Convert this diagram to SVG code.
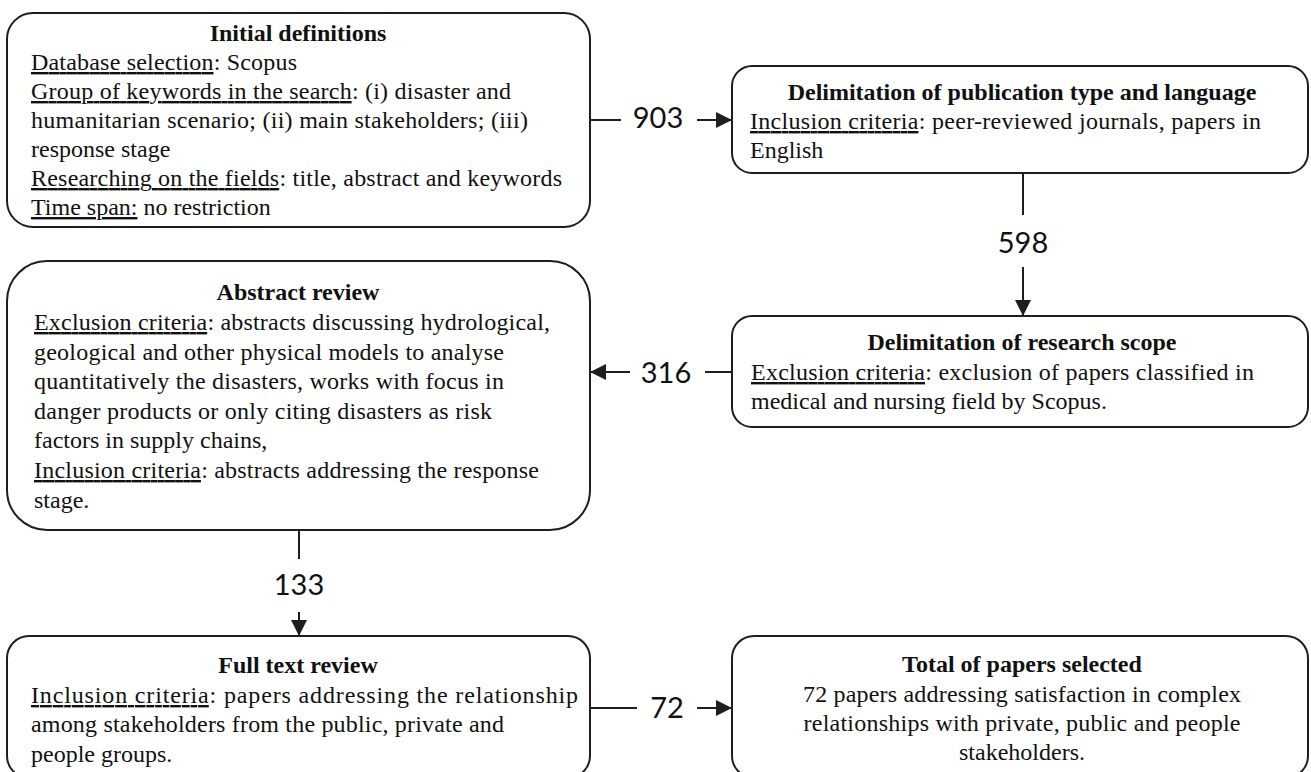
<svg xmlns="http://www.w3.org/2000/svg" width="1311" height="772" viewBox="0 0 1311 772">
<style>
.box{fill:#fff;stroke:#1e1e1e;stroke-width:2}
.t{font-family:"Liberation Serif","Times New Roman",serif;font-size:24px;fill:#111}
.b{font-weight:bold;text-anchor:middle}
.c{text-anchor:middle}
.u{text-decoration:underline}
.ln{stroke:#1e1e1e;stroke-width:2;fill:none}
.n{font-family:Lato,"Open Sans",sans-serif;font-size:29px;fill:#111;text-anchor:middle}
</style>
<defs>
<marker id="ah" viewBox="0 0 10 10" refX="10" refY="5" markerUnits="userSpaceOnUse" markerWidth="17" markerHeight="16" orient="auto">
<path d="M0,0 L10,5 L0,10 z" fill="#1e1e1e"/>
</marker>
</defs>
<rect width="1311" height="772" fill="#fff"/>

<g id="connectors">
<line class="ln" x1="590" y1="120" x2="621" y2="120"/>
<text class="n" x="658" y="128">903</text>
<line class="ln" x1="697" y1="120" x2="732" y2="120" marker-end="url(#ah)"/>

<line class="ln" x1="1023" y1="173" x2="1023" y2="215"/>
<text class="n" x="1023" y="253">598</text>
<line class="ln" x1="1023" y1="267" x2="1023" y2="316" marker-end="url(#ah)"/>

<line class="ln" x1="732" y1="372" x2="705" y2="372"/>
<text class="n" x="666" y="383">316</text>
<line class="ln" x1="630" y1="372" x2="590" y2="372" marker-end="url(#ah)"/>

<line class="ln" x1="299" y1="530" x2="299" y2="559"/>
<text class="n" x="299" y="595">133</text>
<line class="ln" x1="299" y1="612" x2="299" y2="636" marker-end="url(#ah)"/>

<line class="ln" x1="590" y1="708" x2="637" y2="708"/>
<text class="n" x="667" y="718">72</text>
<line class="ln" x1="697" y1="708" x2="732" y2="708" marker-end="url(#ah)"/>
</g>

<g id="initial-definitions">
<rect class="box" x="7" y="13" width="583" height="214" rx="26"/>
<text class="t b" x="298" y="41">Initial definitions</text>
<text class="t" x="31" y="70" textLength="266" lengthAdjust="spacing"><tspan class="u">Database selection</tspan>: Scopus</text>
<text class="t" x="31" y="99" textLength="480" lengthAdjust="spacing"><tspan class="u">Group of keywords in the search</tspan>: (i) disaster and</text>
<text class="t" x="31" y="128" textLength="497" lengthAdjust="spacing">humanitarian scenario; (ii) main stakeholders; (iii)</text>
<text class="t" x="31" y="157">response stage</text>
<text class="t" x="31" y="186" textLength="531" lengthAdjust="spacing"><tspan class="u">Researching on the fields</tspan>: title, abstract and keywords</text>
<text class="t" x="31" y="215"><tspan class="u">Time span:</tspan> no restriction</text>
</g>

<g id="publication-type">
<rect class="box" x="732" y="66" width="576" height="107" rx="20"/>
<text class="t b" x="1022" y="100">Delimitation of publication type and language</text>
<text class="t" x="750" y="129" textLength="511" lengthAdjust="spacing"><tspan class="u">Inclusion criteria</tspan>: peer-reviewed journals, papers in</text>
<text class="t" x="750" y="158">English</text>
</g>

<g id="research-scope">
<rect class="box" x="732" y="316" width="576" height="111" rx="20"/>
<text class="t b" x="1022" y="350">Delimitation of research scope</text>
<text class="t" x="751" y="380" textLength="503" lengthAdjust="spacing"><tspan class="u">Exclusion criteria</tspan>: exclusion of papers classified in</text>
<text class="t" x="751" y="409">medical and nursing field by Scopus.</text>
</g>

<g id="abstract-review">
<rect class="box" x="7" y="261" width="583" height="269" rx="40"/>
<text class="t b" x="298" y="300">Abstract review</text>
<text class="t" x="34" y="330" textLength="516" lengthAdjust="spacing"><tspan class="u">Exclusion criteria</tspan>: abstracts discussing hydrological,</text>
<text class="t" x="34" y="360" textLength="470" lengthAdjust="spacing">geological and other physical models to analyse</text>
<text class="t" x="34" y="389" textLength="470" lengthAdjust="spacing">quantitatively the disasters, works with focus in</text>
<text class="t" x="34" y="419" textLength="458" lengthAdjust="spacing">danger products or only citing disasters as risk</text>
<text class="t" x="34" y="448">factors in supply chains,</text>
<text class="t" x="34" y="478" textLength="505" lengthAdjust="spacing"><tspan class="u">Inclusion criteria</tspan>: abstracts addressing the response</text>
<text class="t" x="34" y="508">stage.</text>
</g>

<g id="full-text-review">
<rect class="box" x="7" y="636" width="583" height="142" rx="22"/>
<text class="t b" x="298" y="673">Full text review</text>
<text class="t" x="31" y="703" textLength="547" lengthAdjust="spacing"><tspan class="u">Inclusion criteria</tspan>: papers addressing the relationship</text>
<text class="t" x="31" y="732" textLength="473" lengthAdjust="spacing">among stakeholders from the public, private and</text>
<text class="t" x="31" y="762">people groups.</text>
</g>

<g id="total-selected">
<rect class="box" x="732" y="636" width="576" height="142" rx="22"/>
<text class="t b" x="1022" y="672">Total of papers selected</text>
<text class="t c" x="1022" y="702" textLength="438" lengthAdjust="spacing">72 papers addressing satisfaction in complex</text>
<text class="t c" x="1022" y="731" textLength="437" lengthAdjust="spacing">relationships with private, public and people</text>
<text class="t c" x="1022" y="760">stakeholders.</text>
</g>
</svg>
